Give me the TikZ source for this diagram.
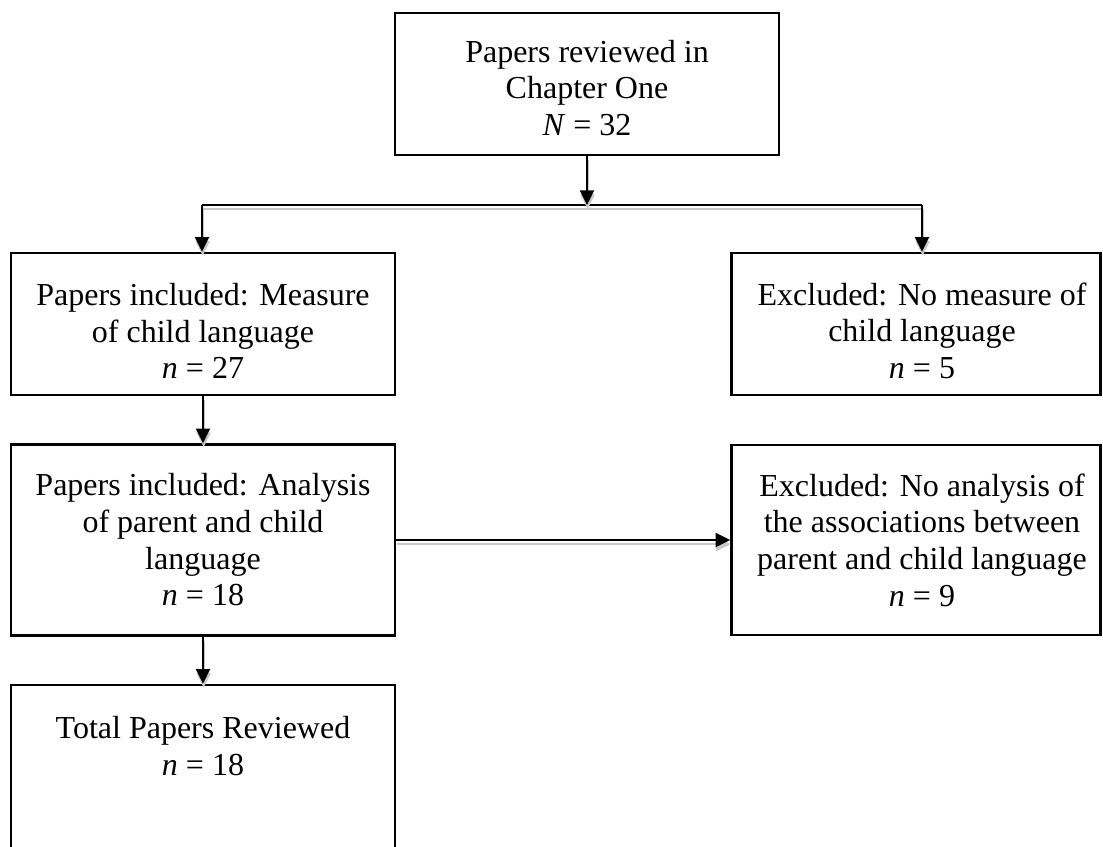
\documentclass[tikz,border=0pt]{standalone}
\usepackage{fontspec}
\setmainfont{Liberation Serif}
\usetikzlibrary{arrows.meta}
\newcommand{\lpad}{\hspace*{9pt}}
\begin{document}
\begin{tikzpicture}[x=0.75pt,y=-0.75pt,
  flowbox/.style={draw=black, line width=2pt, align=center, inner sep=0pt,
    font=\fontsize{24pt}{27.5pt}\selectfont, fill=white},
  flowtext/.style={align=center, inner sep=0pt, font=\fontsize{24pt}{28pt}\selectfont},
  conn/.style={line width=1.5pt, draw=black,
    preaction={draw=black!22, line width=1.5pt, transform canvas={shift={(0.5pt,-3pt)}}}},
  arr/.style={conn, -{Triangle[length=11pt, width=10.5pt]}}
]
\useasboundingbox (0,0) rectangle (1103,846);

% boxes
\node[flowbox, minimum width=288pt, minimum height=106.5pt] (top) at (587,84)
  {\rule{0pt}{22.5pt}Papers reviewed in\\Chapter One\\\textit{N} = 32};
\node[flowbox, minimum width=288pt, minimum height=106.5pt] (measure) at (203,324)
  {\rule{0pt}{27pt}Papers included: Measure\\of child language\\\textit{n} = 27};
\node[flowbox, minimum width=276.75pt, minimum height=106.5pt] (excl1) at (916,324)
  {\rule{0pt}{27pt}\lpad Excluded: No measure of\\\lpad child language\\\lpad\textit{n} = 5};
\node[flowbox, minimum width=288pt, minimum height=143.25pt] (analysis) at (203,540)
  {Papers included: Analysis\\of parent and child\\language\\\textit{n} = 18};
\node[flowbox, minimum width=276.75pt, minimum height=142.5pt] (excl2) at (916,540)
  {\lpad Excluded: No analysis of\\\lpad the associations between\\\lpad parent and child language\\\lpad\textit{n} = 9};
\node[flowbox, minimum width=288pt, minimum height=165pt] (total) at (203,795) {};
\node[flowtext] (totaltext) at (203,746) {Total Papers Reviewed\\\textit{n} = 18};

% connectors
\coordinate (split) at (587,205);
\coordinate (sl) at (202,205);
\coordinate (sr) at (922,205);
\draw[conn] (sl) -- (sr);
\draw[arr] (top.south) -- (split);
\draw[arr] (sl) -- (sl |- measure.north);
\draw[arr] (sr) -- (sr |- excl1.north);
\draw[arr] (measure.south) -- (analysis.north);
\draw[arr] (analysis.south) -- (total.north);
\draw[arr] (analysis.east) -- (excl2.west);
\end{tikzpicture}
\end{document}
